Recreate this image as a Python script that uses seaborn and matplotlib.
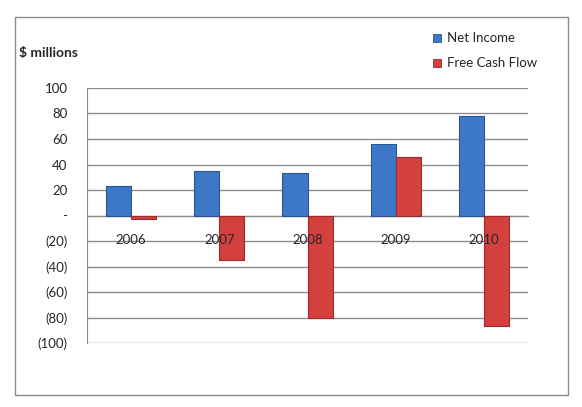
import pandas as pd
import numpy as np
import matplotlib
matplotlib.use('Agg')
import matplotlib.pyplot as plt
import seaborn as sns
from matplotlib.patches import Rectangle
from matplotlib.ticker import FixedLocator, FuncFormatter

# values ($ millions)
years = ['2006', '2007', '2008', '2009', '2010']
net_income = [23, 35, 33, 56, 78]
free_cash_flow = [-2.5, -35, -80, 46, -87]
series = ['Net Income', 'Free Cash Flow']
colors = ['#3D77C8', '#D4403E']
edges = ['#2A5590', '#9A2C2A']

df = pd.DataFrame({
    'Year': years * 2,
    'Value': net_income + free_cash_flow,
    'Series': [series[0]] * len(years) + [series[1]] * len(years),
})

sns.set_style('white')
plt.rcParams['font.family'] = ['Lato', 'DejaVu Sans']

fig = plt.figure(figsize=(5.82, 4.07), dpi=100)
ax = fig.add_axes([87 / 582, 1 - 343 / 407, (528 - 87) / 582, (343 - 88) / 407])

sns.barplot(data=df, x='Year', y='Value', hue='Series', order=years,
            hue_order=series, palette=colors, width=0.57, gap=0,
            saturation=1, ax=ax, legend=False, zorder=3)

# darker outlines to hint at the bevelled Excel bars
for i, cont in enumerate(ax.containers):
    for bar in cont:
        bar.set_edgecolor(edges[i])
        bar.set_linewidth(0.8)

ax.set_ylim(-100, 100)
ax.set_xlim(-0.5, len(years) - 0.5)
ax.set_yticks(np.arange(-100, 101, 20))
ax.yaxis.set_major_formatter(FuncFormatter(
    lambda v, p: '-' if v == 0 else (f'({abs(int(v))})' if v < 0 else f'{int(v)}')))
ax.grid(axis='y', color='#8C8C8C', linewidth=1, zorder=0)
ax.set_axisbelow(True)

# category axis sits on the zero line
ax.spines['bottom'].set_position(('data', 0))
ax.spines['bottom'].set_color('#8C8C8C')
ax.spines['left'].set_color('#8C8C8C')
ax.spines['top'].set_visible(False)
ax.spines['right'].set_visible(False)
ax.xaxis.set_major_locator(FixedLocator(np.arange(-0.5, len(years), 1.0)))
ax.set_xticklabels([])
ax.tick_params(axis='x', which='major', direction='out', length=5, color='#8C8C8C', width=1)
ax.tick_params(axis='y', direction='out', length=6, color='#8C8C8C', width=1,
               labelsize=9.5, pad=8)
ax.set_xlabel('')
ax.set_ylabel('')

# year labels sit just below the zero line, drawn over the bars
for i, yr in enumerate(years):
    ax.text(i, -19, yr, ha='center', va='center', fontsize=9.5, zorder=10)

fig.text(19 / 582, 1 - 53 / 407, '$ millions', fontsize=10, fontweight='bold',
         va='center', ha='left')

# legend drawn as square markers with labels
for k, (name, c, e) in enumerate(zip(series, colors, edges)):
    yy = 1 - (38 + 25 * k) / 407
    fig.patches.append(Rectangle((433 / 582, yy - 4 / 407), 8 / 582, 8 / 407,
                                 transform=fig.transFigure, facecolor=c,
                                 edgecolor=e, linewidth=0.6))
    fig.text(447 / 582, yy, name, fontsize=9.5, va='center', ha='left')

# outer chart border
fig.patches.append(Rectangle((15 / 582, 1 - 395 / 407), 553 / 582, 378 / 407,
                             transform=fig.transFigure, fill=False,
                             edgecolor='#8C8C8C', linewidth=1))

fig.savefig('out.png', dpi=100)
